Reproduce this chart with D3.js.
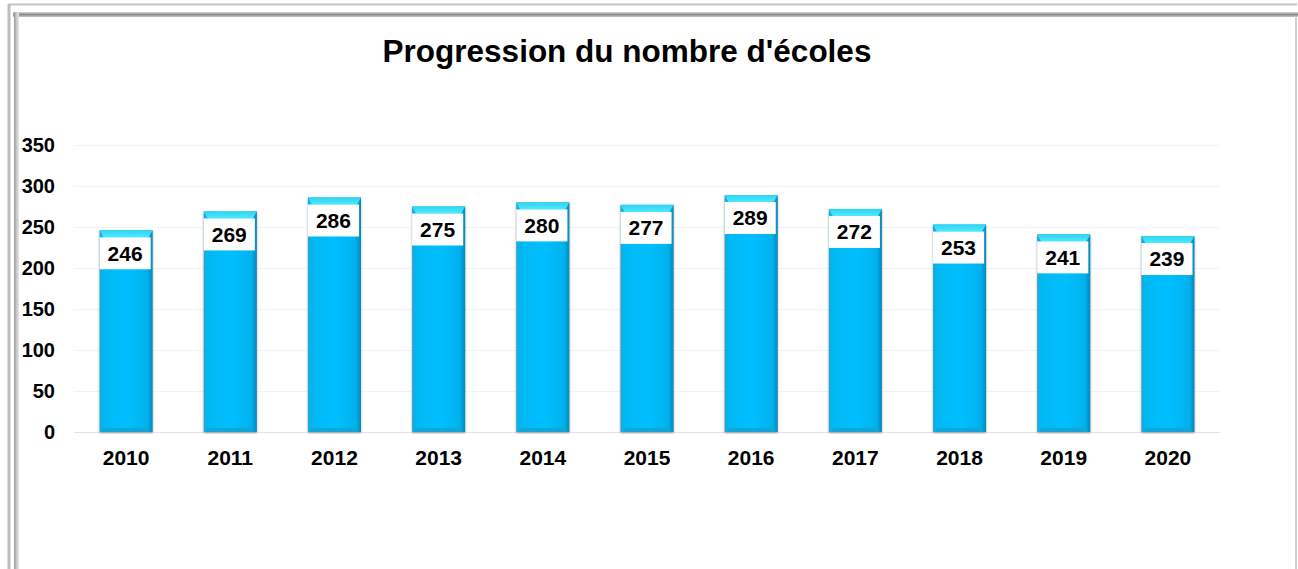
<!DOCTYPE html>
<html>
<head>
<meta charset="utf-8">
<script src="https://cdn.jsdelivr.net/npm/d3@7"></script>
<style>
  html, body { margin: 0; padding: 0; background: #fff; }
  svg { display: block; font-family: "Liberation Sans", Arial, sans-serif; }
</style>
</head>
<body>
<svg id="chart"></svg>
<script>
const years = ['2010', '2011', '2012', '2013', '2014', '2015', '2016', '2017', '2018', '2019', '2020'];
const schools = [246, 269, 286, 275, 280, 277, 289, 272, 253, 241, 239];
const yTicks = [0, 50, 100, 150, 200, 250, 300, 350];
const title = "Progression du nombre d'écoles";

const width = 1298, height = 569;
const margin = { top: 145, left: 74, right: 78, bottom: 137 };

const svg = d3.select('#chart').attr('width', width).attr('height', height);
const defs = svg.append('defs');

// bar body gradient
const bg = defs.append('linearGradient').attr('id', 'barGrad')
  .attr('x1', 0).attr('x2', 1).attr('y1', 0).attr('y2', 0);
[[0, '#3a9cc4'], [0.05, '#00b8f0'], [0.5, '#00bfff'], [0.9, '#00b2ee'], [1, '#0a86b6']]
  .forEach(s => bg.append('stop').attr('offset', s[0]).attr('stop-color', s[1]));

const cg = defs.append('linearGradient').attr('id', 'capGrad')
  .attr('x1', 0).attr('x2', 0).attr('y1', 0).attr('y2', 1);
[[0, '#2fd3f0'], [1, '#4eeaff']]
  .forEach(s => cg.append('stop').attr('offset', s[0]).attr('stop-color', s[1]));

const shadow = defs.append('filter').attr('id', 'shadow')
  .attr('x', '-20%').attr('y', '-5%').attr('width', '140%').attr('height', '110%');
shadow.append('feDropShadow').attr('dx', 0).attr('dy', 1).attr('stdDeviation', 1.2)
  .attr('flood-color', '#000').attr('flood-opacity', 0.35);

// frame
const frame = svg.append('g');
frame.append('line').attr('x1', 8).attr('x2', 1297).attr('y1', 4.5).attr('y2', 4.5)
  .attr('stroke', '#c4c4c4').attr('stroke-width', 2);
frame.append('line').attr('x1', 9).attr('x2', 9).attr('y1', 4).attr('y2', height)
  .attr('stroke', '#bdbdbd').attr('stroke-width', 3);
const tg = defs.append('linearGradient').attr('id', 'topGrad')
  .attr('x1', 0).attr('x2', 0).attr('y1', 0).attr('y2', 1);
[[0, '#d8d8d8'], [0.5, '#8a8a8a'], [1, '#c8c8c8']]
  .forEach(s => tg.append('stop').attr('offset', s[0]).attr('stop-color', s[1]));
const lg = defs.append('linearGradient').attr('id', 'leftGrad')
  .attr('x1', 0).attr('x2', 1).attr('y1', 0).attr('y2', 0);
[[0, '#9a9a9a'], [0.5, '#c8c8c8'], [1, '#e6e6e6']]
  .forEach(s => lg.append('stop').attr('offset', s[0]).attr('stop-color', s[1]));
frame.append('rect').attr('x', 13).attr('y', 12).attr('width', width - 13).attr('height', 5)
  .attr('fill', 'url(#topGrad)');
frame.append('rect').attr('x', 14).attr('y', 12).attr('width', 5).attr('height', height - 12)
  .attr('fill', 'url(#leftGrad)');
frame.append('line').attr('x1', 1296).attr('x2', 1296).attr('y1', 16).attr('y2', height)
  .attr('stroke', '#d0d0d0').attr('stroke-width', 2);

// title
svg.append('text')
  .attr('x', 627).attr('y', 62)
  .attr('text-anchor', 'middle')
  .style('font-size', '31.5px').style('font-weight', 'bold')
  .text(title);

const x = d3.scaleBand()
  .domain(years)
  .range([margin.left, width - margin.right])
  .paddingInner(0.49)
  .paddingOuter(0.245);

const y = d3.scaleLinear()
  .domain([0, 350])
  .range([432, 432 - 350 * 0.82]);

// gridlines
svg.append('g').selectAll('line')
  .data(yTicks)
  .enter().append('line')
  .attr('x1', margin.left).attr('x2', width - margin.right)
  .attr('y1', d => Math.round(y(d)) + 0.5).attr('y2', d => Math.round(y(d)) + 0.5)
  .attr('stroke', d => d === 0 ? '#e4e4e4' : '#f3f3f3');

// y axis
const yAxis = svg.append('g')
  .attr('transform', 'translate(55,0)')
  .call(d3.axisLeft(y).tickValues(yTicks).tickSize(0).tickPadding(0));
yAxis.select('.domain').remove();
yAxis.selectAll('text')
  .attr('fill', '#000')
  .style('font-size', '20px').style('font-weight', 'bold')
  .style('font-family', '"Liberation Sans", Arial, sans-serif');

// x axis
const xAxis = svg.append('g')
  .attr('transform', 'translate(0,432)')
  .call(d3.axisBottom(x).tickSize(0).tickPadding(18));
xAxis.select('.domain').remove();
xAxis.selectAll('text')
  .attr('fill', '#000')
  .style('font-size', '21px').style('font-weight', 'bold')
  .style('font-family', '"Liberation Sans", Arial, sans-serif');

// bars
const bars = svg.append('g').selectAll('.bar')
  .data(years.map((yr, i) => ({ year: yr, value: schools[i] })))
  .enter().append('g').attr('class', 'bar');

bars.append('rect')
  .attr('x', d => x(d.year))
  .attr('y', d => y(d.value))
  .attr('width', x.bandwidth())
  .attr('height', d => y(0) - y(d.value))
  .attr('fill', 'url(#barGrad)')
  .attr('filter', 'url(#shadow)');

// top cap bevel
bars.append('path')
  .attr('d', d => {
    const x0 = x(d.year), x1 = x0 + x.bandwidth(), t = y(d.value);
    return `M${x0},${t}L${x1},${t}L${x1 - 4},${t + 7}L${x0 + 4},${t + 7}Z`;
  })
  .attr('fill', 'url(#capGrad)');

// bottom bevel
bars.append('rect')
  .attr('x', d => x(d.year) + 3)
  .attr('y', y(0) - 4)
  .attr('width', x.bandwidth() - 6)
  .attr('height', 4)
  .attr('fill', '#10a6d8');

// value label boxes
bars.append('rect')
  .attr('x', d => x(d.year))
  .attr('y', d => y(d.value) + 7)
  .attr('width', x.bandwidth() - 2)
  .attr('height', 32)
  .attr('fill', '#fff');

bars.append('text')
  .attr('x', d => x(d.year) + (x.bandwidth() - 2) / 2)
  .attr('y', d => y(d.value) + 23)
  .attr('dy', '0.35em')
  .attr('text-anchor', 'middle')
  .style('font-size', '21px').style('font-weight', 'bold')
  .text(d => d.value);
</script>
</body>
</html>
